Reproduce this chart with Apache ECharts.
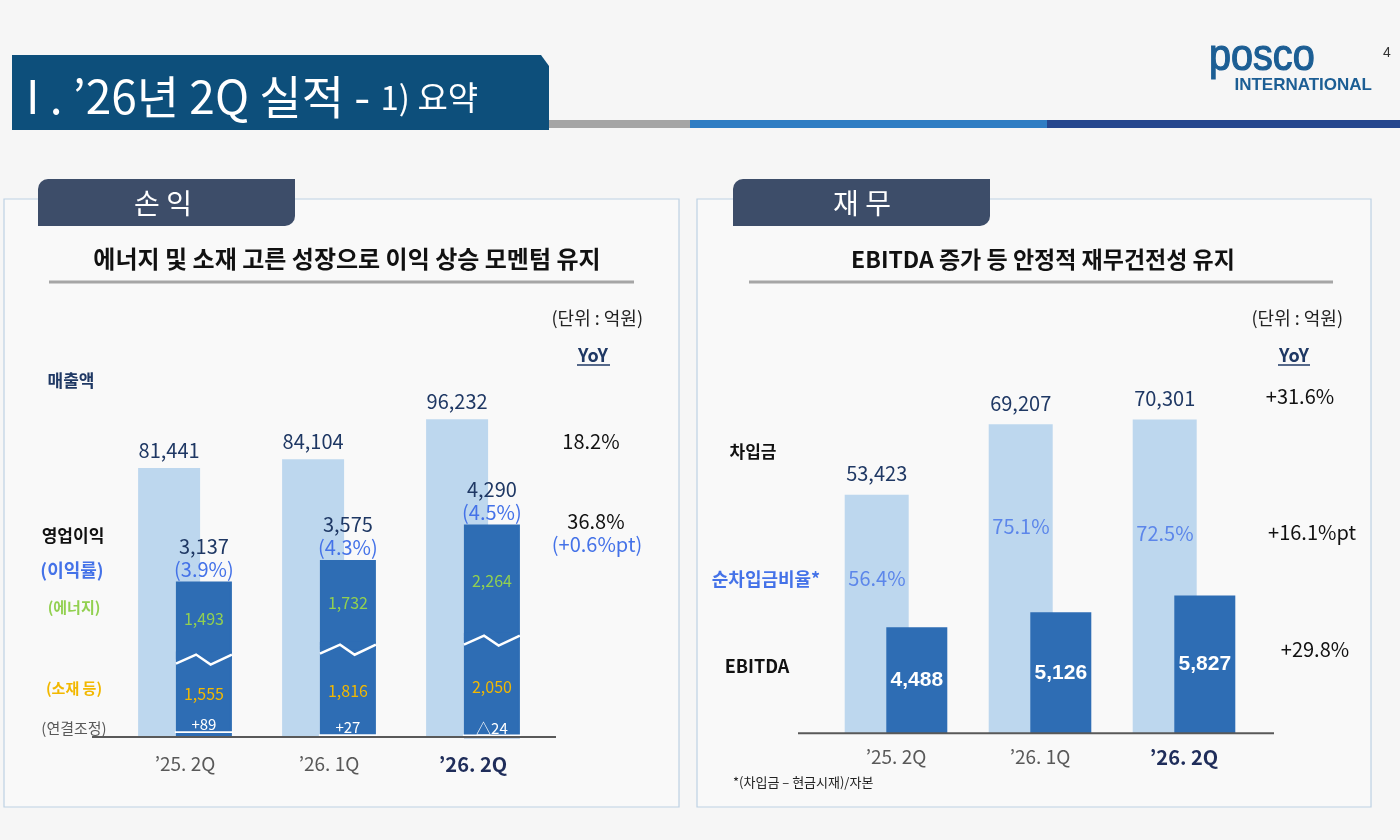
<!DOCTYPE html>
<html>
<head>
<meta charset="utf-8">
<script src="https://cdn.jsdelivr.net/npm/echarts@6/dist/echarts.min.js"></script>
<style>
html, body { margin: 0; padding: 0; background: #f6f6f6; }
#main { width: 1400px; height: 840px; }
</style>
</head>
<body>
<div id="main"></div>
<script>
// 손익 (단위: 억원)
var quarters = ['\u201925. 2Q', '\u201926. 1Q', '\u201926. 2Q'];
var sales = [81441, 84104, 96232];
var opProfit = [3137, 3575, 4290];
var opMargin = ['3.9%', '4.3%', '4.5%'];
var energy = [1493, 1732, 2264];
var materials = [1555, 1816, 2050];
var consolAdj = [89, 27, -24];
var consolAdjText = ['+89', '+27', '\u25b324'];

// 재무 (단위: 억원)
var borrowings = [53423, 69207, 70301];
var netDebtRatio = [56.4, 75.1, 72.5];
var ebitda = [4488, 5126, 5827];

var FONT = '"Noto Sans CJK KR", "Noto Sans", sans-serif';
var LATIN = '"Liberation Sans", Arial, sans-serif';
var NAVY = '#1f3864';
var BLUE = '#4472e8';
var LIGHT = '#bdd7ee';
var DARK = '#2e6db4';
var fmt = echarts.format.addCommas;

// bar geometry (left chart); stacked segments get a 2px border of the same colour
var L_SALES_W = 62, L_OP_W = 56, L_GAP = -0.39;
var lSpan = L_SALES_W * (1 + L_GAP) + L_OP_W;
var L_OP_OFF = -lSpan / 2 + L_SALES_W * (1 + L_GAP) + L_OP_W / 2;
var L_OP_HALF = L_OP_W / 2 + 1;

function txt(x, y, text, o) {
  o = o || {};
  var el = {
    type: 'text', x: x, y: y, z: 10,
    style: {
      text: text,
      fill: o.color || '#000',
      fontSize: o.size || 18,
      fontWeight: o.weight || 'normal',
      fontFamily: o.family || FONT,
      stroke: o.stroke, lineWidth: o.strokeWidth,
      align: o.align || 'center', textAlign: o.align || 'center',
      verticalAlign: 'middle', textVerticalAlign: 'middle'
    }
  };
  if (o.scaleX) { el.scaleX = o.scaleX; }
  return el;
}
function hline(x1, x2, y, color, w) {
  return { type: 'line', z: 5, shape: { x1: x1, y1: y, x2: x2, y2: y }, style: { stroke: color, lineWidth: w } };
}

// zigzag break, adjustment line and total/margin labels on the operating-profit bar
function renderOp(params, api) {
  var i = api.value(0);
  var c = api.coord([i, 0]);
  var cx = c[0] + L_OP_OFF, x0 = cx - L_OP_HALF + 1, x1 = cx + L_OP_HALF - 1, w = x1 - x0;
  var yAdj = api.coord([i, Math.abs(api.value(1))])[1];
  var yMid = api.coord([i, api.value(2)])[1];
  var yTop = api.coord([i, api.value(3)])[1];
  return {
    type: 'group',
    children: [
      { type: 'rect', shape: { x: x0, y: yMid - 4, width: w, height: 8 }, style: { fill: DARK } },
      { type: 'polyline', shape: { points: [[x0, yMid + 8], [x0 + 0.36 * w, yMid - 1], [x0 + 0.62 * w, yMid + 9], [x1, yMid - 1]] },
        style: { stroke: '#fff', lineWidth: 2.5, fill: null } },
      { type: 'line', shape: { x1: x0 - 1, y1: yAdj - 0.5, x2: x1 + 1, y2: yAdj - 0.5 }, style: { stroke: '#fff', lineWidth: 1.6 } },
      { type: 'text', x: cx, y: yTop - 35, style: { text: fmt(opProfit[i]), fill: NAVY, fontSize: 20, fontFamily: FONT,
        align: 'center', textAlign: 'center', verticalAlign: 'middle', textVerticalAlign: 'middle' } },
      { type: 'text', x: cx, y: yTop - 12, style: { text: '(' + opMargin[i] + ')', fill: BLUE, fontSize: 20, fontFamily: FONT,
        align: 'center', textAlign: 'center', verticalAlign: 'middle', textVerticalAlign: 'middle' } }
    ]
  };
}

var opMarks = quarters.map(function (q, i) {
  return [i, consolAdj[i], consolAdj[i] + materials[i], opProfit[i]];
});

var xLabel = {
  fontFamily: FONT,
  formatter: function (v, i) { return i === 2 ? '{b|' + v + '}' : '{a|' + v + '}'; },
  rich: {
    a: { color: '#595959', fontSize: 19, fontFamily: FONT },
    b: { color: '#1f2d5a', fontSize: 20, fontWeight: 'bold', fontFamily: FONT }
  }
};

var darkSeg = { color: DARK, borderColor: DARK, borderWidth: 2 };

var graphics = [
  // header
  { type: 'polygon', z: 1, shape: { points: [[12, 55], [541, 55], [549, 66], [549, 130], [12, 130]] }, style: { fill: '#0d4f7b' } },
  {
    type: 'text', x: 26, y: 97, z: 10,
    style: {
      text: '{a|I . \u201926년 2Q 실적 - }{b|1) 요약}',
      fill: '#fff', fontFamily: FONT,
      align: 'left', textAlign: 'left', verticalAlign: 'middle', textVerticalAlign: 'middle',
      rich: {
        a: { fontSize: 46, fill: '#fff', fontFamily: FONT },
        b: { fontSize: 33, fill: '#fff', fontFamily: FONT }
      }
    }
  },
  { type: 'rect', z: 1, shape: { x: 549, y: 120, width: 141, height: 8 }, style: { fill: '#a5a5a5' } },
  { type: 'rect', z: 1, shape: { x: 690, y: 120, width: 357, height: 8 }, style: { fill: '#2f7dc3' } },
  { type: 'rect', z: 1, shape: { x: 1047, y: 120, width: 353, height: 8 }, style: { fill: '#26478e' } },
  txt(1209, 58, 'posco', { align: 'left', size: 44, color: '#1c5e94', family: LATIN, stroke: '#1c5e94', strokeWidth: 1.2, scaleX: 0.9 }),
  txt(1372, 85, 'INTERNATIONAL', { align: 'right', size: 17, weight: 'bold', color: '#1c5e94', family: LATIN }),
  txt(1387, 53, '4', { size: 14, color: '#333', family: LATIN }),

  // panels
  { type: 'rect', z: 0, shape: { x: 4, y: 199, width: 675, height: 608 }, style: { fill: 'rgba(255,255,255,0.3)', stroke: '#bdd1e3', lineWidth: 1.2 } },
  { type: 'rect', z: 0, shape: { x: 697, y: 199, width: 674, height: 608 }, style: { fill: 'rgba(255,255,255,0.3)', stroke: '#bdd1e3', lineWidth: 1.2 } },
  { type: 'rect', z: 2, shape: { x: 38, y: 179, width: 257, height: 47, r: [10, 0, 10, 0] }, style: { fill: '#3d4d69' } },
  { type: 'rect', z: 2, shape: { x: 733, y: 179, width: 257, height: 47, r: [10, 0, 10, 0] }, style: { fill: '#3d4d69' } },
  txt(163, 203, '손 익', { size: 28, color: '#fff' }),
  txt(862, 203, '재 무', { size: 28, color: '#fff' }),

  // subtitles
  txt(347, 259, '에너지 및 소재 고른 성장으로 이익 상승 모멘텀 유지', { size: 24, weight: 'bold', color: '#111' }),
  hline(49, 634, 282, '#a6a6a6', 3),
  txt(1043, 259, 'EBITDA 증가 등 안정적 재무건전성 유지', { size: 23, weight: 'bold', color: '#111' }),
  hline(749, 1333, 282, '#a6a6a6', 3),

  // left annotations
  txt(643, 318, '(단위 : 억원)', { align: 'right', size: 18, color: '#222' }),
  txt(593, 355, 'YoY', { size: 18, weight: 'bold', color: NAVY }),
  hline(577, 610, 365, NAVY, 1.5),
  txt(71, 381, '매출액', { size: 17, weight: 'bold', color: NAVY }),
  txt(73, 536, '영업이익', { size: 17, weight: 'bold', color: '#111' }),
  txt(72, 570, '(이익률)', { size: 18, weight: 'bold', color: BLUE }),
  txt(74, 607, '(에너지)', { size: 15, weight: 'bold', color: '#92d050' }),
  txt(74, 688, '(소재 등)', { size: 15, weight: 'bold', color: '#f2b800' }),
  txt(74, 728, '(연결조정)', { size: 15, color: '#595959' }),
  txt(591, 441, '18.2%', { size: 20, color: '#111' }),
  txt(596, 521, '36.8%', { size: 20, color: '#111' }),
  txt(597, 544, '(+0.6%pt)', { size: 20, color: BLUE }),
  hline(92, 556, 737, '#595959', 2),

  // right annotations
  txt(1343, 318, '(단위 : 억원)', { align: 'right', size: 18, color: '#222' }),
  txt(1294, 355, 'YoY', { size: 18, weight: 'bold', color: NAVY }),
  hline(1278, 1310, 365, NAVY, 1.5),
  txt(753, 452, '차입금', { size: 17, weight: 'bold', color: '#111' }),
  txt(766, 579, '순차입금비율*', { size: 18, weight: 'bold', color: BLUE }),
  txt(757, 666, 'EBITDA', { size: 18, weight: 'bold', color: '#111' }),
  txt(1300, 396, '+31.6%', { size: 20, color: '#111' }),
  txt(1312, 532, '+16.1%pt', { size: 20, color: '#111' }),
  txt(1315, 649, '+29.8%', { size: 20, color: '#111' }),
  txt(733, 782, '*(차입금 \u2013 현금시재)/자본', { align: 'left', size: 13, color: '#222' }),
  hline(798, 1274, 733.3, '#595959', 2)
];

var option = {
  backgroundColor: 'transparent',
  animation: false,
  textStyle: { fontFamily: FONT },
  graphic: graphics,
  grid: [
    { left: 113, right: 855, top: 340.7, bottom: 103 },
    { left: 824, right: 144, top: 331.5, bottom: 106.7 }
  ],
  xAxis: [
    { type: 'category', gridIndex: 0, data: quarters, axisLine: { show: false }, axisTick: { show: false },
      axisLabel: Object.assign({ margin: 17 }, xLabel) },
    { type: 'category', gridIndex: 1, data: quarters, axisLine: { show: false }, axisTick: { show: false },
      axisLabel: Object.assign({ margin: 14 }, xLabel) }
  ],
  yAxis: [
    { type: 'value', gridIndex: 0, min: 0, max: 120000, show: false },
    { type: 'value', gridIndex: 0, min: 0, max: 8000, show: false },
    { type: 'value', gridIndex: 1, min: 0, max: 90000, show: false },
    { type: 'value', gridIndex: 1, min: 0, max: 17000, show: false },
    { type: 'value', gridIndex: 1, min: 0, max: 146, show: false }
  ],
  series: [
    { name: '매출액', type: 'bar', xAxisIndex: 0, yAxisIndex: 0, data: sales,
      barWidth: L_SALES_W, barGap: '-39%', itemStyle: { color: LIGHT },
      label: { show: true, position: 'top', distance: 8, color: NAVY, fontSize: 20, fontFamily: FONT,
        formatter: function (p) { return fmt(p.value); } } },
    { name: '연결조정', type: 'bar', xAxisIndex: 0, yAxisIndex: 1, data: consolAdj, stack: 'op', stackStrategy: 'all',
      barWidth: L_OP_W, barGap: '-39%', itemStyle: { color: DARK }, clip: false,
      label: { show: true, position: 'top', distance: 1, color: '#fff', fontSize: 15, fontFamily: FONT,
        formatter: function (p) { return consolAdjText[p.dataIndex]; } } },
    { name: '소재 등', type: 'bar', xAxisIndex: 0, yAxisIndex: 1, data: materials, stack: 'op', stackStrategy: 'all',
      barWidth: L_OP_W, barGap: '-39%', itemStyle: darkSeg,
      label: { show: true, position: 'inside', color: '#f2b800', fontSize: 16, fontFamily: FONT,
        formatter: function (p) { return fmt(p.value); } } },
    { name: '에너지', type: 'bar', xAxisIndex: 0, yAxisIndex: 1, data: energy, stack: 'op', stackStrategy: 'all',
      barWidth: L_OP_W, barGap: '-39%', itemStyle: darkSeg,
      label: { show: true, position: 'inside', color: '#92d050', fontSize: 16, fontFamily: FONT,
        formatter: function (p) { return fmt(p.value); } } },
    { name: '영업이익', type: 'custom', xAxisIndex: 0, yAxisIndex: 1, data: opMarks, z: 5,
      renderItem: renderOp, encode: { x: 0, y: 3 } },

    { name: '차입금', type: 'bar', xAxisIndex: 1, yAxisIndex: 2, data: borrowings,
      barWidth: 64, barGap: '-35%', itemStyle: { color: LIGHT },
      label: { show: true, position: 'top', distance: 11, color: NAVY, fontSize: 20, fontFamily: FONT,
        formatter: function (p) { return fmt(p.value); } } },
    { name: 'EBITDA', type: 'bar', xAxisIndex: 1, yAxisIndex: 3, data: ebitda,
      barWidth: 61, barGap: '-35%', itemStyle: { color: DARK },
      label: { show: true, position: 'inside', color: '#fff', fontSize: 21, fontWeight: 'bold',
        fontFamily: LATIN, formatter: function (p) { return fmt(p.value); } } },
    { name: '순차입금비율', type: 'scatter', xAxisIndex: 1, yAxisIndex: 4, data: netDebtRatio,
      symbolSize: 1, itemStyle: { color: 'rgba(0,0,0,0)' }, z: 6,
      label: { show: true, position: 'inside', offset: [-19, 0], color: BLUE, fontSize: 20, fontFamily: FONT,
        formatter: function (p) { return p.value.toFixed(1) + '%'; } } }
  ]
};

var chart = echarts.init(document.getElementById('main'));
chart.setOption(option);
</script>
</body>
</html>
